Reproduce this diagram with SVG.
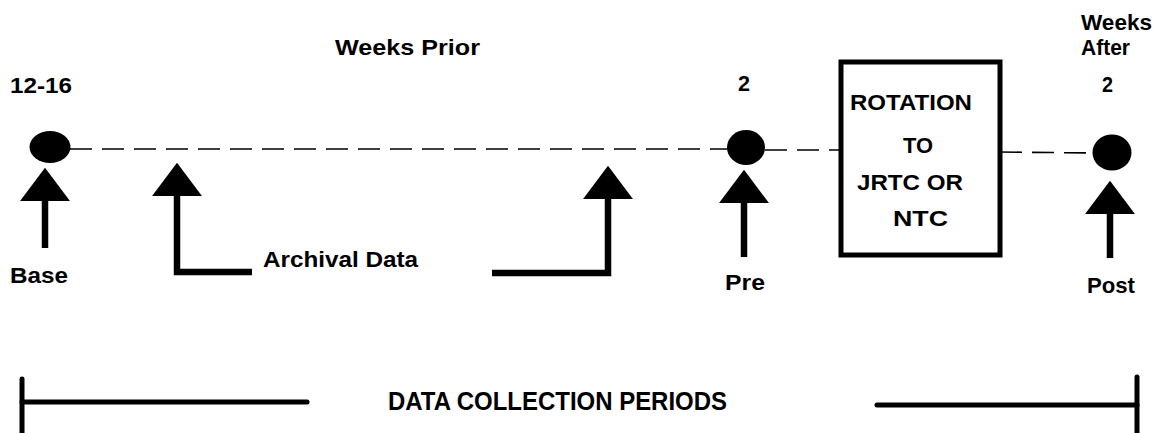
<svg xmlns="http://www.w3.org/2000/svg" width="1157" height="433" viewBox="0 0 1157 433">
  <style>
    text { font-family: "Liberation Sans", Arial, sans-serif; font-weight: bold; font-size: 22px; fill: #000; }
    .big { font-size: 26px; }
    .dash { stroke: #000; stroke-width: 1.6; stroke-dasharray: 22 10; fill: none; }
    .shaft { stroke: #000; stroke-width: 6.5; fill: none; stroke-linejoin: miter; }
    .dot { fill: #000; }
    .bar { stroke: #000; stroke-width: 5; fill: none; stroke-linecap: round; }
  </style>
  <defs>
    <marker id="head" markerUnits="userSpaceOnUse" markerWidth="50" markerHeight="34" viewBox="0 0 48 32" refX="24" refY="30" orient="0">
      <path d="M0,32 L24,0 L48,32 Z" fill="#000"/>
    </marker>
  </defs>
  <rect width="1157" height="433" fill="#fff"/>

  <g id="connectors">
    <line class="dash" x1="70" y1="149" x2="728" y2="149"/>
    <line class="dash" x1="765" y1="150" x2="841" y2="150"/>
    <line class="dash" x1="1000" y1="152" x2="1094" y2="153"/>
    <path class="shaft" d="M45,248 L45,199" marker-end="url(#head)"/>
    <path class="shaft" d="M252,272 L177,272 L177,194" marker-end="url(#head)"/>
    <path class="shaft" d="M492,273 L608,273 L608,197" marker-end="url(#head)"/>
    <path class="shaft" d="M744,257 L744,201" marker-end="url(#head)"/>
    <path class="shaft" d="M1110,258 L1110,212" marker-end="url(#head)"/>
  </g>

  <g id="base">
    <ellipse class="dot" cx="50" cy="147" rx="20.5" ry="16"/>
    <text x="10" y="93" textLength="62" lengthAdjust="spacingAndGlyphs">12-16</text>
    <text x="10" y="283" textLength="58" lengthAdjust="spacingAndGlyphs">Base</text>
  </g>

  <g id="weeks-prior">
    <text x="335" y="55" textLength="145" lengthAdjust="spacingAndGlyphs">Weeks Prior</text>
  </g>

  <g id="archival">
    <text x="263" y="267" textLength="155" lengthAdjust="spacingAndGlyphs">Archival Data</text>
  </g>

  <g id="pre">
    <ellipse class="dot" cx="746" cy="147.5" rx="19" ry="17.5"/>
    <text x="738" y="91" textLength="12" lengthAdjust="spacingAndGlyphs">2</text>
    <text x="725" y="290" textLength="40" lengthAdjust="spacingAndGlyphs">Pre</text>
  </g>

  <g id="rotation">
    <rect x="841" y="62" width="159" height="193" fill="#fff" stroke="#000" stroke-width="5"/>
    <text x="850" y="110" textLength="122" lengthAdjust="spacingAndGlyphs">ROTATION</text>
    <text x="903" y="153" textLength="30" lengthAdjust="spacingAndGlyphs">TO</text>
    <text x="857" y="190" textLength="106" lengthAdjust="spacingAndGlyphs">JRTC OR</text>
    <text x="893" y="226" textLength="55" lengthAdjust="spacingAndGlyphs">NTC</text>
  </g>

  <g id="post">
    <ellipse class="dot" cx="1112" cy="152.5" rx="19.5" ry="18"/>
    <text x="1081" y="30" textLength="71" lengthAdjust="spacingAndGlyphs">Weeks</text>
    <text x="1081" y="55" textLength="49" lengthAdjust="spacingAndGlyphs">After</text>
    <text x="1102" y="92" textLength="11" lengthAdjust="spacingAndGlyphs">2</text>
    <text x="1087" y="293" textLength="48" lengthAdjust="spacingAndGlyphs">Post</text>
  </g>

  <g id="data-collection">
    <line class="bar" x1="22" y1="379" x2="22" y2="433"/>
    <line class="bar" x1="22" y1="402" x2="307" y2="402"/>
    <line class="bar" x1="877" y1="405" x2="1137" y2="405"/>
    <line class="bar" x1="1137" y1="377" x2="1137" y2="433"/>
    <text class="big" x="388" y="410" textLength="339" lengthAdjust="spacingAndGlyphs">DATA COLLECTION PERIODS</text>
  </g>
</svg>
